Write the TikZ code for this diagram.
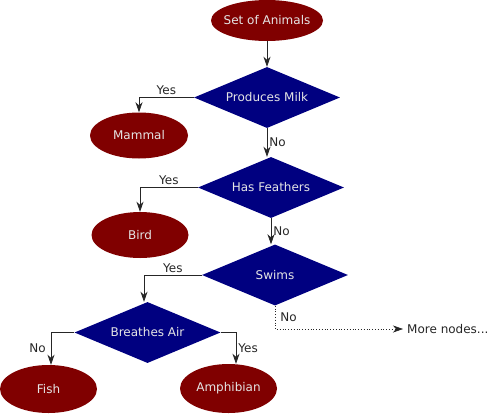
\documentclass[tikz,border=0pt]{standalone}
\usepackage{fontspec}
\setmainfont{DejaVu Sans}
\usetikzlibrary{shapes.geometric,arrows.meta}
\definecolor{nodered}{HTML}{800000}
\definecolor{nodeblue}{HTML}{000080}
\tikzset{
  boxtext/.style={text=white!90!black,inner sep=0pt,font=\fontsize{12}{14}\selectfont},
  leaf/.style={ellipse,fill=nodered,inner sep=0pt,minimum width=97pt,minimum height=46pt,label={[boxtext]center:#1}},
  test/.style={diamond,fill=nodeblue,inner sep=0pt,minimum width=146pt,minimum height=61pt,label={[boxtext]center:#1}},
  arr/.style={draw=black!85,line width=0.8pt,-{Stealth[length=10pt,width=7pt,inset=3pt]}},
  lbl/.style={font=\fontsize{12}{14}\selectfont,text=black!85,inner sep=2pt}
}
\begin{document}
\begin{tikzpicture}[x=1pt,y=-1pt]
\useasboundingbox (0,0) rectangle (490,413);
\node[leaf=Set of Animals,minimum width=112pt,minimum height=41pt] (soa) at (267,20.5) {};
\node[test=Produces Milk] (pm) at (267,97.5) {};
\node[leaf=Mammal,minimum width=98pt] (mam) at (139,135.5) {};
\node[test=Has Feathers] (hf) at (271,187.5) {};
\node[leaf=Bird] (bird) at (140,235) {};
\node[test=Swims] (sw) at (275,275) {};
\node[test=Breathes Air] (ba) at (147.5,332.5) {};
\node[leaf=Fish,minimum height=48pt] (fish) at (48.5,389) {};
\node[leaf=Amphibian,minimum height=49pt] (amph) at (228.5,388.5) {};
\node[lbl,anchor=west,inner sep=0pt] (more) at (407,329) {More nodes...};

\draw[arr] (soa.south) -- (pm.north);
\draw[arr] (pm.west) -| (mam.north) node[lbl,pos=0.25,above] {Yes};
\draw[arr] (pm.south) -- (pm.south |- hf.north) node[lbl,midway,right] {No};
\draw[arr] (hf.west) -| (bird.north) node[lbl,pos=0.25,above] {Yes};
\draw[arr] (hf.south) -- (hf.south |- sw.north) node[lbl,midway,right] {No};
\draw[arr] (sw.west) -| ([xshift=-3.5pt]ba.north) node[lbl,pos=0.25,above] {Yes};
\draw[arr,dotted,line width=0.6pt] (sw.south) |- ([xshift=-4pt]more.west) node[lbl,pos=0.25,right,xshift=3pt] {No};
\draw[arr] (ba.west) -| ([xshift=2.5pt]fish.north) node[lbl,pos=0.75,left,xshift=-3pt] {No};
\draw[arr] (ba.east) -| ([xshift=7.5pt]amph.north) node[lbl,pos=0.75,right] {Yes};
\end{tikzpicture}
\end{document}
